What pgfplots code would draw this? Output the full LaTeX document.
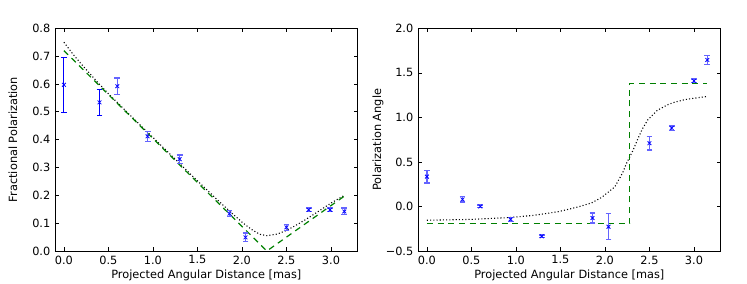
\documentclass[border=0pt]{standalone}
\usepackage{xcolor}
\usepackage{pgfplots}
\pgfplotsset{compat=1.18}
\usepackage{fontspec}
\setmainfont{DejaVu Sans}
\definecolor{mplgreen}{RGB}{0,128,0}
\definecolor{mplblue}{RGB}{0,0,255}
\definecolor{lightblue}{RGB}{100,100,255}
\pgfplotsset{
  common/.style={
    scale only axis, width=227pt, height=167pt,
    xmin=-0.1, xmax=3.3,
    xtick={0,0.5,1,1.5,2,2.5,3},
    xticklabels={0.0,0.5,1.0,1.5,2.0,2.5,3.0},
    tick align=inside, major tick length=3pt,
    tick style={black, line width=0.5pt},
    axis line style={black, line width=0.6pt},
    ticklabel style={font=\fontsize{8.5}{10}\selectfont},
    label style={font=\fontsize{8.5}{10}\selectfont},
    /pgf/number format/assume math mode=true,
    xlabel={Projected Angular Distance [mas]},
    xlabel style={at={(axis description cs:0.5,0)}, anchor=center, yshift=-18pt},
  },
  datapts/.style={only marks, mark=x, mark size=2pt, draw=mplblue, color=mplblue,
    mark options={draw=mplblue, line width=0.6pt},
    error bars/y dir=both, error bars/y explicit},
}
\begin{document}
\begin{tikzpicture}
\useasboundingbox (-41.25pt,-24.75pt) rectangle (519pt,188.25pt);
\begin{axis}[common,
  ymin=0, ymax=0.8,
  ytick={0,0.1,0.2,0.3,0.4,0.5,0.6,0.7,0.8},
  yticklabels={0.0,0.1,0.2,0.3,0.4,0.5,0.6,0.7,0.8},
  ylabel={Fractional Polarization},
  ylabel style={at={([xshift=-31.5pt]axis description cs:0,0.5)}, anchor=center},
]
% dotted model
\addplot[color=black, line width=0.8pt, dash pattern=on 0.8pt off 1.6pt] coordinates {
(0,0.750) (0.1,0.708) (0.2,0.670) (0.3,0.634) (0.4,0.599) (0.5,0.565)
(0.75,0.486) (1.0,0.408) (1.25,0.330) (1.5,0.252) (1.75,0.176) (1.9,0.132)
(2.0,0.104) (2.1,0.079) (2.2,0.060) (2.28,0.055) (2.4,0.061) (2.5,0.074)
(2.6,0.091) (2.7,0.110) (2.8,0.130) (2.9,0.151) (3.0,0.172) (3.15,0.200)};
% dashed model
\addplot[color=mplgreen, /utils/exec={\color{mplgreen}}, line width=0.9pt, dash pattern=on 4.5pt off 3.5pt] coordinates {
(0,0.72) (2.28,0.0) (3.15,0.197)};
% data (solid error bars)
\addplot[datapts, /utils/exec={\color{mplblue}},
  error bars/error bar style={color=mplblue, line width=0.8pt},
  error bars/error mark options={color=mplblue, rotate=90, mark size=2.2pt, line width=0.8pt}] coordinates {
(0.00,0.597) +- (0,0.098)
(0.40,0.534) +- (0,0.047)};
% data (lighter error bars)
\addplot[datapts, /utils/exec={\color{lightblue}},
  error bars/error bar style={color=lightblue, line width=1pt},
  error bars/error mark options={color=lightblue, rotate=90, mark size=2.2pt, line width=1pt}] coordinates {
(0.60,0.592) +- (0,0.029)
(0.94,0.412) +- (0,0.018)
(1.30,0.330) +- (0,0.015)
(1.86,0.134) +- (0,0.011)
(2.04,0.049) +- (0,0.016)
(2.50,0.085) +- (0,0.011)
(2.75,0.148) +- (0,0.006)
(2.99,0.148) +- (0,0.007)
(3.15,0.142) +- (0,0.012)};
\end{axis}
\begin{axis}[common, at={(272.25pt,0)},
  ymin=-0.5, ymax=2.0,
  ytick={-0.5,0,0.5,1,1.5,2},
  yticklabels={−0.5,0.0,0.5,1.0,1.5,2.0},
  ylabel={Polarization Angle},
  ylabel style={at={([xshift=-30pt]axis description cs:0,0.5)}, anchor=center},
]
\addplot[color=black, line width=0.8pt, dash pattern=on 0.8pt off 1.6pt] coordinates {
(0,-0.155) (0.5,-0.145) (0.92,-0.125) (1.2,-0.100) (1.48,-0.058) (1.7,-0.005)
(1.85,0.040) (1.96,0.100) (2.05,0.170) (2.11,0.220) (2.15,0.290) (2.2,0.380)
(2.24,0.480) (2.28,0.560) (2.32,0.640) (2.37,0.760) (2.42,0.870) (2.48,0.970)
(2.59,1.080) (2.7,1.140) (2.78,1.170) (2.9,1.200) (3.0,1.215) (3.15,1.235)};
\addplot[color=mplgreen, /utils/exec={\color{mplgreen}}, line width=0.9pt, dash pattern=on 4.5pt off 3.5pt] coordinates {
(0,-0.19) (2.28,-0.19) (2.28,1.38) (3.15,1.38)};
\addplot[datapts, /utils/exec={\color{lightblue}},
  error bars/error bar style={color=lightblue, line width=1pt},
  error bars/error mark options={color=lightblue, rotate=90, mark size=2.2pt, line width=1pt}] coordinates {
(0.00,0.335) +- (0,0.070)
(0.40,0.080) +- (0,0.030)
(0.60,0.000) +- (0,0.015)
(0.94,-0.145) +- (0,0.022)
(1.29,-0.335) +- (0,0.015)
(1.86,-0.130) +- (0,0.055)
(2.04,-0.228) +- (0,0.146)
(2.50,0.710) +- (0,0.075)
(2.75,0.880) +- (0,0.025)
(3.00,1.410) +- (0,0.020)
(3.15,1.645) +- (0,0.048)};
\end{axis}
\end{tikzpicture}
\end{document}
